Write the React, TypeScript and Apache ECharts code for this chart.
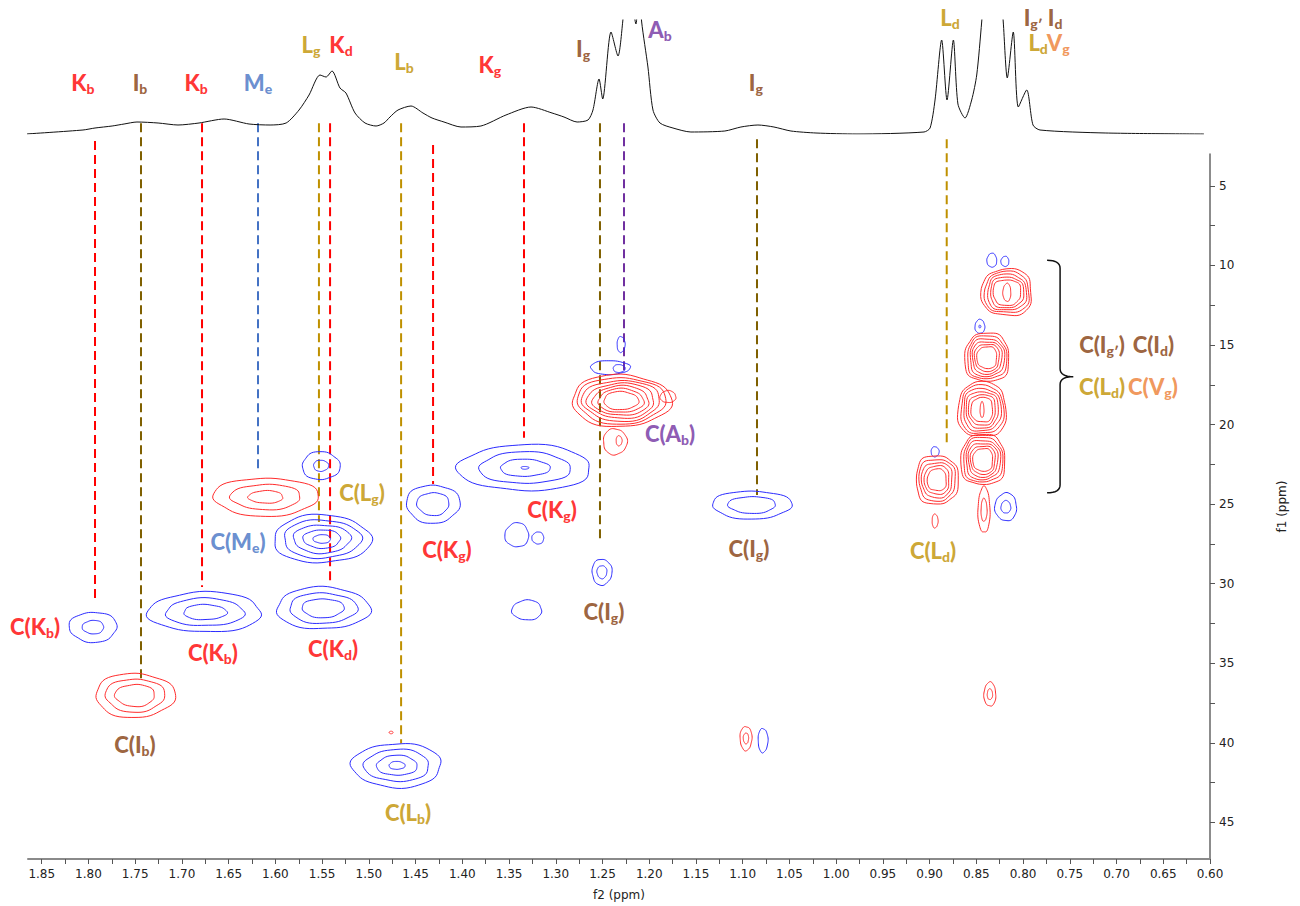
import React, { useEffect, useRef } from "react";
import * as echarts from "echarts";

// ---------- colours ----------
const RED = "#FF0000";
const BROWN = "#843C0C";
const GOLD = "#BF9000";
const BLUE_L = "#4472C4";
const PURPLE = "#7030A0";
const ORANGE = "#ED7D31";
const OLIVE = "#7F6000";
const C_BLUE = "#2b2bff";
const C_RED = "#ff2b2b";

// ---------- axes ----------
const f2Min = 0.6;
const f2Max = 1.8647;
const f1Min = 3;
const f1Max = 47.3;
const f2TickLabels = [1.85, 1.8, 1.75, 1.7, 1.65, 1.6, 1.55, 1.5, 1.45, 1.4, 1.35, 1.3, 1.25, 1.2, 1.15, 1.1, 1.05, 1.0, 0.95, 0.9, 0.85, 0.8, 0.75, 0.7, 0.65, 0.6];
const f1TickLabels = [5, 10, 15, 20, 25, 30, 35, 40, 45];

// ---------- 1D proton spectrum (top trace) ----------
const specPpm = [1.8669, 1.8059, 1.793, 1.7747, 1.7619, 1.7481, 1.7255, 1.7042, 1.6817, 1.6549, 1.6282, 1.6057, 1.5885, 1.5747, 1.564, 1.5523, 1.5458, 1.5394, 1.5309, 1.5245, 1.5148, 1.5041, 1.4923, 1.4838, 1.4774, 1.4688, 1.4549, 1.4421, 1.4324, 1.4196, 1.4014, 1.3801, 1.3533, 1.3265, 1.304, 1.2912, 1.2772, 1.2655, 1.2602, 1.2537, 1.2498, 1.2409, 1.2334, 1.2284, 1.2228, 1.2142, 1.211, 1.2081, 1.2014, 1.196, 1.1885, 1.1746, 1.1554, 1.1191, 1.1019, 1.0837, 1.0666, 1.0484, 1.0216, 0.9777, 0.906, 0.8995, 0.8942, 0.8871, 0.8814, 0.8746, 0.8697, 0.8621, 0.855, 0.8496, 0.8443, 0.8323, 0.8212, 0.8169, 0.8105, 0.8051, 0.7961, 0.7894, 0.7819, 0.7114, 0.6065];
const specInt = [0, 4, 6, 8, 10, 12, 11, 9, 11, 15, 10, 9, 11, 24, 39, 59, 57, 63, 46, 41, 21, 11, 8, 11, 17, 24, 28, 21, 16, 12, 7, 8, 19, 27, 21, 17, 12, 14, 24, 55, 35, 102, 78, 112, 170, 110, 150, 112, 67, 24, 11, 6, 2, 3, 7, 9, 7, 3, 1, 0, 2, 6, 34, 94, 34, 94, 30, 16, 34, 59, 112, 250, 112, 56, 102, 27, 44, 9, 4, 1, 0];

// ---------- 2D HSQC contours: [f2 ppm, f1 ppm, half-width f2, half-height f1, levels, innermost scale, squareness] ----------
const blueContours = [
  [1.795, 32.73, 0.0256, 0.95, 2, 0.45, 2],
  [1.6753, 31.79, 0.0608, 1.26, 3, 0.38, 2],
  [1.5512, 22.59, 0.0203, 0.88, 2, 0.4, 2],
  [1.5502, 27.19, 0.0522, 1.51, 5, 0.18, 2],
  [1.5491, 31.54, 0.0501, 1.32, 3, 0.45, 2],
  [1.4699, 41.42, 0.048, 1.39, 4, 0.18, 2],
  [1.4313, 24.99, 0.0288, 1.2, 2, 0.6, 2],
  [1.333, 22.72, 0.0714, 1.45, 4, 0.06, 2],
  [1.3416, 26.94, 0.0128, 0.76, 1, 1, 2],
  [1.3191, 27.13, 0.0064, 0.38, 1, 1, 2],
  [1.3308, 31.66, 0.016, 0.63, 1, 1, 2],
  [1.2506, 29.27, 0.0107, 0.82, 2, 0.5, 2],
  [1.2302, 14.97, 0.0043, 0.5, 1, 1, 2],
  [1.2419, 16.42, 0.0213, 0.44, 1, 1, 2],
  [1.2323, 16.48, 0.0064, 0.25, 1, 1, 2],
  [1.0902, 25.05, 0.0426, 0.88, 2, 0.6, 2],
  [1.0783, 39.85, 0.0053, 0.76, 1, 1, 2],
  [0.8334, 9.68, 0.0053, 0.44, 1, 1, 2],
  [0.8194, 9.75, 0.0043, 0.32, 1, 1, 2],
  [0.8462, 13.84, 0.0053, 0.44, 2, 0.2, 2],
  [0.8942, 21.71, 0.0043, 0.32, 1, 1, 2],
  [0.8184, 25.18, 0.0117, 0.88, 2, 0.45, 2],
];
const redContours = [
  [1.6102, 24.55, 0.0565, 1.2, 3, 0.33, 2],
  [1.7502, 37.02, 0.0426, 1.39, 3, 0.5, 2],
  [1.2302, 18.5, 0.0533, 1.64, 7, 0.35, 2],
  [1.1799, 18.25, 0.0085, 0.38, 1, 1, 2],
  [1.2366, 21.08, 0.0128, 0.82, 1, 1, 2],
  [1.2323, 21.02, 0.0032, 0.32, 1, 1, 2],
  [1.4762, 39.35, 0.0021, 0.08, 1, 1, 2],
  [1.0965, 39.72, 0.0064, 0.76, 2, 0.45, 2],
  [0.8355, 36.95, 0.0064, 0.76, 2, 0.45, 2],
  [0.8173, 11.7, 0.0267, 1.45, 5, 0.55, 2.6],
  [0.8173, 11.7, 0.0043, 0.57, 1, 1, 2],
  [0.8386, 15.79, 0.0235, 1.51, 6, 0.45, 2.6],
  [0.8439, 19.07, 0.0256, 1.7, 6, 0.45, 2.6],
  [0.8439, 19.07, 0.0021, 0.5, 1, 1, 2],
  [0.8429, 22.22, 0.0235, 1.57, 6, 0.45, 2.6],
  [0.8418, 25.37, 0.0065, 1.45, 2, 0.5, 2],
  [0.8921, 23.48, 0.0224, 1.51, 5, 0.45, 2.6],
  [0.8942, 26.06, 0.0032, 0.44, 1, 1, 2],
];

// ---------- dashed guide lines ----------
const guidePpm = [1.793, 1.7438, 1.6785, 1.6186, 1.5534, 1.5415, 1.4655, 1.4313, 1.334, 1.2527, 1.227, 1.0847, 0.8817];
const guideTop = [2.19, 1.06, 1.06, 1.06, 1.06, 1.06, 1.06, 2.44, 1.06, 1.06, 1.06, 2.07, 2.07];
const guideBottom = [31.03, 36.01, 30.21, 22.97, 26.12, 29.96, 40.04, 23.73, 20.83, 27.32, 16.67, 24.42, 21.4];
const guideColor = [RED, OLIVE, RED, BLUE_L, GOLD, RED, GOLD, RED, RED, OLIVE, PURPLE, OLIVE, GOLD];

// ---------- assignment labels ----------
const labelText = [
  "K_{b}", "I_{b}", "K_{b}", "M_{e}", "L_{g}", "K_{d}", "L_{b}", "K_{g}", "I_{g}", "A_{b}", "I_{g}", "L_{d}", "I_{g′} I_{d}", "L_{d}", "V_{g}",
  "C(K_{b})", "C(K_{b})", "C(M_{e})", "C(L_{g})", "C(K_{d})", "C(I_{b})", "C(L_{b})", "C(K_{g})", "C(K_{g})", "C(A_{b})", "C(I_{g})", "C(I_{g})", "C(L_{d})",
  "C(I_{g′})", "C(I_{d})", "C(L_{d})", "C(V_{g})",
];
const labelPpm = [
  1.8059, 1.7449, 1.6849, 1.6186, 1.5619, 1.5298, 1.4624, 1.3705, 1.2708, 1.1885, 1.0859, 0.8783, 0.7786, 0.7839, 0.7624,
  1.8571, 1.6668, 1.64, 1.5073, 1.5383, 1.7502, 1.4581, 1.4164, 1.304, 1.1778, 1.2484, 1.0933, 0.8964,
  0.7155, 0.6605, 0.7155, 0.661,
];
const labelF1 = [
  -1.5, -1.5, -1.5, -1.5, -3.9, -3.9, -2.8, -2.6, -3.6, -4.8, -1.5, -5.6, -5.6, -4.0, -4.0,
  32.7, 34.3, 27.35, 24.3, 34.1, 40.1, 44.35, 27.85, 25.35, 20.55, 31.75, 27.8, 27.9,
  14.95, 14.95, 17.6, 17.6,
];
const labelColor = [
  RED, BROWN, RED, BLUE_L, GOLD, RED, GOLD, RED, BROWN, PURPLE, BROWN, GOLD, BROWN, GOLD, ORANGE,
  RED, RED, BLUE_L, GOLD, RED, BROWN, GOLD, RED, RED, PURPLE, BROWN, BROWN, GOLD,
  BROWN, BROWN, GOLD, ORANGE,
];

// bracket grouping the methyl cross peaks: f2 of ends, spine, tip; f1 of top, middle, bottom
const bracketF2 = [0.7743, 0.7604, 0.7463];
const bracketF1 = [9.68, 16.99, 24.29];

const LABEL_FONT = "Lato, 'Open Sans', sans-serif";

function midpoints(a: number[]) {
  const out: number[] = [];
  for (let i = 0; i < a.length - 1; i++) out.push((a[i] + a[i + 1]) / 2);
  return out;
}

function toRich(t: string) {
  const parts: string[] = [];
  const re = /_\{([^}]*)\}/g;
  let last = 0;
  let m: RegExpExecArray | null;
  while ((m = re.exec(t)) !== null) {
    if (m.index > last) parts.push(`{n|${t.slice(last, m.index)}}`);
    parts.push(`{s|${m[1]}}`);
    last = m.index + m[0].length;
  }
  if (last < t.length) parts.push(`{n|${t.slice(last)}}`);
  return parts.join("");
}

function richFor(color: string) {
  return {
    n: { fontFamily: LABEL_FONT, fontWeight: 900, fontSize: 22, color, lineHeight: 26, verticalAlign: "middle" },
    s: { fontFamily: LABEL_FONT, fontWeight: 900, fontSize: 14, color, lineHeight: 14, verticalAlign: "bottom" },
  };
}

function contourRender(color: string) {
  return (params: any, api: any) => {
    const x = api.value(0);
    const y = api.value(1);
    const rx = api.value(2);
    const ry = api.value(3);
    const lv = api.value(4);
    const minS = api.value(5);
    const sq = api.value(6);
    const c = api.coord([x, y]);
    const sz = api.size([rx, ry]);
    const children: any[] = [];
    const N = 64;
    for (let k = 0; k < lv; k++) {
      const s = lv === 1 ? 1 : 1 - (k * (1 - minS)) / (lv - 1);
      const pts: number[][] = [];
      for (let j = 0; j < N; j++) {
        const th = (j / N) * Math.PI * 2;
        const ct = Math.cos(th);
        const st = Math.sin(th);
        const e = 2 / sq;
        const cx = Math.sign(ct) * Math.pow(Math.abs(ct), e);
        const cy = Math.sign(st) * Math.pow(Math.abs(st), e);
        const w = 1 + 0.035 * Math.sin(3 * th + x * 37 + k) + 0.02 * Math.sin(7 * th + y);
        pts.push([c[0] + sz[0] * s * cx * w, c[1] + sz[1] * s * cy * w]);
      }
      children.push({ type: "polygon", shape: { points: pts }, style: { fill: "none", stroke: color, lineWidth: 1 } });
    }
    return { type: "group", children };
  };
}

export default function App() {
  const ref = useRef<HTMLDivElement>(null);
  useEffect(() => {
    if (!ref.current) return;
    const chart = echarts.init(ref.current, undefined, { renderer: "svg" });
    const f2Ticks = [...f2TickLabels, ...midpoints(f2TickLabels)];
    const f1Ticks = [...f1TickLabels, ...midpoints(f1TickLabels)];
    const labelData = labelText.map((t, i) => ({
      value: [labelPpm[i], labelF1[i]],
      label: { formatter: toRich(t), rich: richFor(labelColor[i]) },
    }));
    const option: any = {
      animation: false,
      backgroundColor: "#fff",
      grid: [
        { left: 28, right: 90, top: 154, bottom: 46 },
        { left: 28, right: 90, top: 20, height: 114 },
      ],
      xAxis: [
        {
          type: "value",
          gridIndex: 0,
          min: f2Min,
          max: f2Max,
          inverse: true,
          position: "bottom",
          splitLine: { show: false },
          axisLine: { show: true, onZero: false, lineStyle: { color: "#8a8a8a", width: 2 } },
          axisTick: { show: true, customValues: f2Ticks, length: 5, lineStyle: { color: "#555" } },
          axisLabel: {
            customValues: f2TickLabels,
            formatter: (v: number) => v.toFixed(2),
            fontFamily: "'DejaVu Sans', sans-serif",
            fontSize: 12,
            color: "#222",
            margin: 9,
          },
          name: "f2 (ppm)",
          nameLocation: "middle",
          nameGap: 30,
          nameTextStyle: { fontFamily: "'DejaVu Sans', sans-serif", fontSize: 12, color: "#222" },
        },
        { type: "value", gridIndex: 1, min: f2Min, max: f2Max, inverse: true, show: false },
      ],
      yAxis: [
        {
          type: "value",
          gridIndex: 0,
          min: f1Min,
          max: f1Max,
          inverse: true,
          position: "right",
          splitLine: { show: false },
          axisLine: { show: true, onZero: false, lineStyle: { color: "#666", width: 1.5 } },
          axisTick: { show: true, customValues: f1Ticks, length: 5, lineStyle: { color: "#555" } },
          axisLabel: {
            customValues: f1TickLabels,
            fontFamily: "'DejaVu Sans', sans-serif",
            fontSize: 12,
            color: "#222",
            margin: 9,
          },
          name: "f1 (ppm)",
          nameLocation: "middle",
          nameRotate: 90,
          nameGap: 66,
          nameTextStyle: { fontFamily: "'DejaVu Sans', sans-serif", fontSize: 12, color: "#222" },
        },
        { type: "value", gridIndex: 1, min: 0, max: 114, show: false },
      ],
      series: [
        {
          type: "line",
          xAxisIndex: 1,
          yAxisIndex: 1,
          data: specPpm.map((p, i) => [p, specInt[i]]),
          showSymbol: false,
          symbol: "none",
          smooth: 0.25,
          clip: true,
          lineStyle: { color: "#111", width: 1 },
          silent: true,
        },
        {
          type: "custom",
          xAxisIndex: 0,
          yAxisIndex: 0,
          clip: false,
          silent: true,
          data: guidePpm.map((p, i) => [p, guideTop[i], guideBottom[i], i]),
          renderItem: (params: any, api: any) => {
            const p1 = api.coord([api.value(0), api.value(1)]);
            const p2 = api.coord([api.value(0), api.value(2)]);
            return {
              type: "line",
              shape: { x1: p1[0], y1: p1[1], x2: p2[0], y2: p2[1] },
              style: { stroke: guideColor[api.value(3)], lineWidth: 2, lineDash: [9, 5] },
            };
          },
        },
        {
          type: "custom",
          xAxisIndex: 0,
          yAxisIndex: 0,
          clip: false,
          silent: true,
          data: blueContours,
          renderItem: contourRender(C_BLUE),
        },
        {
          type: "custom",
          xAxisIndex: 0,
          yAxisIndex: 0,
          clip: false,
          silent: true,
          data: redContours,
          renderItem: contourRender(C_RED),
        },
        {
          type: "custom",
          xAxisIndex: 0,
          yAxisIndex: 0,
          clip: false,
          silent: true,
          data: [[bracketF2[1], bracketF1[1]]],
          renderItem: (params: any, api: any) => {
            const a = api.coord([bracketF2[0], bracketF1[0]]);
            const sp = api.coord([bracketF2[1], bracketF1[1]]);
            const tip = api.coord([bracketF2[2], bracketF1[1]]);
            const b = api.coord([bracketF2[0], bracketF1[2]]);
            const xs = sp[0];
            const r = 8;
            const pts: number[][] = [];
            const q = (p0: number[], p1: number[], p2: number[]) => {
              for (let i = 0; i <= 8; i++) {
                const t = i / 8;
                pts.push([
                  (1 - t) * (1 - t) * p0[0] + 2 * (1 - t) * t * p1[0] + t * t * p2[0],
                  (1 - t) * (1 - t) * p0[1] + 2 * (1 - t) * t * p1[1] + t * t * p2[1],
                ]);
              }
            };
            q([a[0], a[1]], [xs, a[1]], [xs, a[1] + r]);
            q([xs, sp[1] - r], [xs, sp[1]], [tip[0], sp[1]]);
            q([tip[0], sp[1]], [xs, sp[1]], [xs, sp[1] + r]);
            q([xs, b[1] - r], [xs, b[1]], [b[0], b[1]]);
            return { type: "polyline", shape: { points: pts }, style: { stroke: "#111", lineWidth: 1.5, fill: "none" } };
          },
        },
        {
          type: "scatter",
          xAxisIndex: 0,
          yAxisIndex: 0,
          clip: false,
          silent: true,
          symbolSize: 1,
          itemStyle: { color: "rgba(0,0,0,0)" },
          label: { show: true, position: "inside" },
          labelLayout: { hideOverlap: false },
          data: labelData,
        },
      ],
    };
    chart.setOption(option);
    return () => chart.dispose();
  }, []);
  return <div ref={ref} style={{ position: "fixed", left: 0, top: 0, width: 1300, height: 906, background: "#fff" }} />;
}
